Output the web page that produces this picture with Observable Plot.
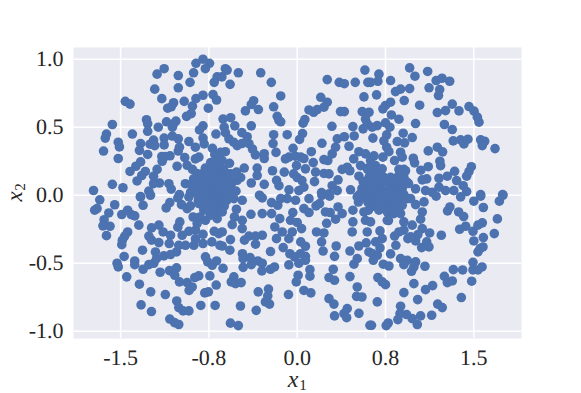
<!DOCTYPE html>
<html><head><meta charset="utf-8">
<script src="https://cdn.jsdelivr.net/npm/d3@7"></script>
<script src="https://cdn.jsdelivr.net/npm/@observablehq/plot@0.6"></script>
<style>html,body{margin:0;padding:0;background:#fff}svg{display:block;text-rendering:geometricPrecision}</style>
</head><body><div id="c"></div>
<script>
const xTicks=[-1.5,-0.75,0,0.75,1.5];
const yTicks=[-1,-0.5,0,0.5,1];
const upperLeft=[[-.80,1],[-.86,.97],[-.745,.97],[-.78,.93],[-.88,.90],[-1.13,.93],[-1.19,.89],[-1.01,.88],[-.91,.83],[-1.01,.79],[-1.21,.78],[-.705,.83],[-.68,.87],[-1.46,.69],[-1.42,.67],[-1.15,.71],[-.96,.69],[-.86,.71],[-.80,.735],[-.715,.74],[-.685,.70],[-.89,.655],[-.755,.64],[-1.05,.68],[-1.07,.65],[-1.10,.64],[-.90,.60],[-.94,.58],[-1.28,.555],[-1.27,.525],[-1.11,.54],[-1.03,.545],[-1.57,.52],[-1.05,.525],[-1.06,.50],[-1.18,.50],[-1.27,.47],[-.80,.51],[-.83,.48],[-1.62,.45],[-1.63,.42],[-1.40,.45],[-.69,.45],[-.80,.42],[-1.06,.435],[-1.01,.415],[-1.13,.42],[-1.22,.405],[-1.52,.39],[-1.51,.355],[-1.645,.325],[-1.52,.27],[-1.33,.38],[-1.34,.33],[-1.27,.30],[-1.25,.375],[-1.21,.365],[-1.13,.37],[-1,.353],[-1.01,.325],[-.92,.395],[-.865,.353],[-.79,.377],[-.72,.345],[-.70,.30],[-.835,.28],[-.865,.267],[-.955,.277],[-1.08,.29],[-1.12,.285],[-1.15,.285],[-1.147,.25],[-1.33,.245],[-1.37,.213],[-1.42,.175],[-1.29,.175],[-1.32,.145],[-1.36,.105],[-1.19,.19],[-1.02,.213],[-.935,.22],[-.89,.19],[-1.22,.14],[-1.17,.09],[-1.22,.085],[-1.09,.085],[-1.07,.045],[-1.26,.03],[-1.33,-.01],[-1,.005],[-1.57,.08],[-1.48,.055],[-1.73,.035],[-.95,.085],[-.735,.24],[-.68,.255],[-.665,.22],[-.75,.18],[-.79,.17],[-.71,.157],[-.82,.12],[-.765,.12],[-.71,.095],[-.88,.07],[-.82,.06],[-.765,.047],[-.68,.047],[-.905,.022],[-.85,.01],[-.79,.01],[-.735,.01],[-.665,0]];
const leftCluster=[[-.78,.2],[-.72,.2],[-.66,.2],[-.85,.16],[-.78,.16],[-.72,.16],[-.66,.16],[-.60,.16],[-.88,.12],[-.82,.12],[-.76,.12],[-.70,.12],[-.64,.12],[-.58,.12],[-.90,.08],[-.84,.08],[-.78,.08],[-.72,.08],[-.66,.08],[-.60,.08],[-.56,.08],[-.86,.04],[-.80,.04],[-.74,.04],[-.68,.04],[-.62,.04],[-.57,.04],[-.84,0],[-.78,0],[-.72,0],[-.66,0],[-.60,0],[-.84,-.04],[-.78,-.04],[-.72,-.04],[-.66,-.04],[-.6,-.04],[-.80,-.08],[-.74,-.08],[-.68,-.08],[-.62,-.08],[-.72,-.12],[-.66,-.12]];
const upperMiddle=[[-.61,.93],[-.595,.92],[-.64,.87],[-.50,.90],[-.57,.815],[-.31,.90],[-.22,.83],[-.14,.73],[-.37,.695],[-.39,.667],[-.44,.62],[-.33,.63],[-.20,.65],[-.17,.58],[-.155,.55],[-.14,.54],[-.63,.56],[-.565,.57],[-.53,.51],[-.39,.51],[-.62,.50],[-.61,.46],[-.47,.46],[-.425,.43],[-.58,.415],[-.54,.39],[-.51,.365],[-.47,.38],[-.41,.38],[-.38,.34],[-.355,.297],[-.28,.305],[-.28,.27],[-.20,.445],[-.205,.38],[-.085,.445],[-.18,.315],[-.61,.32],[-.65,.315],[-.575,.235],[-.637,.255],[-.45,.20],[-.34,.20],[-.34,.145],[-.39,.09],[-.28,.08],[-.21,.18],[-.515,.17],[-.565,.157],[-.48,.13],[-.51,.11],[-.625,.19],[-.58,.095],[-.64,.12],[-.52,.03],[-.58,.02],[-.64,.047],[-.32,0],[-.155,.07],[-.11,.17],[-.175,.11],[-.07,.04],[-.07,.28],[-.10,.267],[-.035,.345],[.03,.28],[-.015,.287],[.12,.32],[.057,.27],[.136,.24],[-.006,.218],[-.03,.157],[.07,.194],[0,.13],[.04,.108],[.057,.06],[.014,.034],[.156,.17],[.147,.10],[.227,.16],[.27,.157],[.207,.02],[.297,.07],[.347,.113],[.34,.034],[.27,.01],[.382,.19],[.425,.206],[.453,.04],[.524,.14],[.48,.267],[.447,.18],[.538,.218],[.58,.047],[.538,.01],[.61,.13],[.595,.194],[.524,.32],[.58,.304],[.44,.36],[.326,.353],[.297,.304],[.227,.262],[.26,.255],[.21,.382],[.34,.414],[.40,.43],[.484,.436],[.473,.505],[.295,.507],[.05,.53],[.065,.556],[.045,.453],[.02,.41],[.10,.627],[.14,.61],[.17,.63],[.227,.647],[.255,.684],[.20,.72],[.255,.85],[.357,.83],[.40,.82],[.493,.83],[.60,.83],[.575,.92],[.567,.723],[.368,.615],[.40,.615],[.552,.615],[.61,.61],[.58,.56],[.595,.525],[.56,.488]];
const upperRight=[[.955,.936],[1.108,.91],[1,.875],[.694,.89],[.685,.838],[.623,.83],[.793,.843],[1.18,.843],[1.23,.86],[1.295,.838],[1.12,.79],[1.21,.777],[1.2,.733],[.955,.784],[.878,.78],[.835,.762],[.674,.738],[.909,.696],[.793,.684],[.75,.66],[.728,.635],[1.04,.662],[1.317,.67],[1.459,.652],[1.502,.618],[1.26,.622],[1.19,.608],[1.374,.62],[1.53,.574],[1.544,.537],[.80,.59],[.864,.559],[.75,.532],[1.005,.527],[1.25,.52],[1.317,.483],[.68,.512],[.637,.50],[.787,.50],[.90,.456],[.977,.424],[.76,.444],[.736,.40],[.643,.42],[.85,.395],[.912,.385],[.76,.353],[.878,.316],[.779,.32],[1.325,.40],[1.388,.407],[1.416,.377],[1.45,.412],[1.558,.407],[1.592,.397],[1.572,.365],[1.68,.343],[1.19,.353],[1.235,.319],[1.113,.326],[.986,.272],[.997,.238],[.827,.255],[.892,.28],[.728,.28],[1.212,.25],[1.218,.218],[1.113,.21],[1.05,.184],[1.479,.21],[1.459,.174],[1.439,.14],[1.337,.176],[1.275,.14],[1.204,.125],[1.1,.12],[1.062,.113],[1.354,.108],[1.41,.07],[1.439,.027],[1.558,.005],[1.745,.005],[1.005,.047],[1.09,.034],[1.147,.022],[1.204,.06],[1.26,.034],[1.33,.034],[.906,.19],[.864,.19],[.935,.095],[.652,.29],[.623,.255],[.665,.218],[.722,.194],[.637,.17],[.68,.145],[.736,.132],[.793,.132],[.85,.132],[.906,.132],[.652,.095],[.708,.083],[.765,.095],[.82,.095],[.878,.083],[.665,.047],[.722,.034],[.779,.047],[.835,.047],[.892,.047],[.68,.005],[.736,.005],[.793,.005],[.85,.005],[.906,.005]];
const rightCluster=[[.55,-.014],[.52,-.05],[.58,.086],[.62,.16],[.665,.18],[.69,-.09],[.775,-.186],[.835,-.09],[.895,-.015],[.945,.086],[.92,.18],[.87,.155],[.605,-.11],[.55,.05],[.58,0],[.6,-.05],[.62,.12],[.66,.1],[.56,.1],[.62,.04],[.64,-.02],[.65,-.08],[.7,-.05],[.6,.2]];
const lowerLeft=[[-1.677,-.034],[-1.55,-.07],[-1.70,-.098],[-1.72,-.11],[-1.60,-.13],[-1.49,-.142],[-1.44,-.11],[-1.41,-.142],[-1.38,-.152],[-1.64,-.18],[-1.65,-.225],[-1.59,-.228],[-1.62,-.297],[-1.345,-.22],[-1.44,-.27],[-1.465,-.30],[-1.485,-.33],[-1.49,-.363],[-1.314,-.404],[-1.47,-.45],[-1.53,-.50],[-1.52,-.527],[-1.38,-.483],[-1.38,-.51],[-1.448,-.60],[-1.34,-.654],[-1.244,-.71],[-1.12,-.73],[-1.326,-.806],[-1.238,-.855],[-1.082,-.91],[-1.042,-.936],[-1.006,-.95],[-1.023,-.777],[-1.006,-.826],[-.969,-.85],[-.92,-.85],[-.819,-.81],[-.697,-.81],[-.785,-.718],[-.754,-.71],[-.688,-.66],[-.742,-.593],[-.836,-.593],[-.87,-.605],[-.935,-.642],[-.892,-.674],[-.918,-.70],[-1,-.637],[-1.04,-.588],[-1.085,-.554],[-1.025,-.534],[-1.164,-.566],[-1.309,-.544],[-1.26,-.51],[-1.218,-.50],[-1.204,-.417],[-1.195,-.466],[-1.133,-.446],[-1.076,-.436],[-1.025,-.417],[-1.087,-.355],[-1.175,-.348],[-1.237,-.33],[-1.26,-.30],[-1.237,-.24],[-1.175,-.22],[-1.139,-.27],[-1.076,-.294],[-1.014,-.235],[-.997,-.196],[-1.006,-.368],[-.949,-.368],[-.977,-.294],[-.92,-.265],[-.878,-.368],[-.864,-.32],[-.864,-.257],[-.80,-.287],[-.80,-.355],[-.725,-.343],[-.705,-.265],[-.666,-.282],[-.657,-.368],[-.884,-.16],[-.85,-.208],[-.827,-.16],[-.779,-.184],[-.737,-.147],[-.68,-.172],[-.779,-.453],[-.76,-.49],[-.722,-.515],[-.685,-.483],[-1.309,-.074],[-1.332,-.012],[-1.246,0],[-1.113,-.093],[-1.082,-.054],[-.983,-.069],[-.935,-.098],[-.907,-.078],[-1.014,-.02],[-.92,-.012],[-.835,-.061],[-.779,-.037],[-.708,-.049],[-.666,-.098],[-.722,-.098],[-.793,-.11]];
const lowerMiddle=[[-.467,-.037],[-.538,-.025],[-.61,-.025],[-.516,-.103],[-.637,-.123],[-.533,-.16],[-.467,-.184],[-.552,-.216],[-.467,-.245],[-.637,-.27],[-.393,-.14],[-.297,-.135],[-.218,-.135],[-.165,-.074],[-.218,-.054],[-.148,-.172],[-.037,-.127],[-.057,-.184],[0,-.2],[.037,-.245],[-.19,-.233],[-.127,-.27],[-.176,-.319],[-.042,-.27],[-.071,-.319],[-.119,-.385],[-.297,-.294],[-.354,-.30],[-.41,-.30],[-.448,-.33],[-.354,-.36],[-.567,-.326],[-.637,-.373],[-.572,-.404],[-.227,-.414],[-.465,-.43],[-.46,-.466],[-.40,-.458],[-.39,-.51],[-.334,-.483],[-.297,-.50],[-.30,-.556],[-.459,-.53],[-.63,-.537],[-.227,-.544],[-.193,-.527],[-.071,-.512],[.03,-.343],[.07,-.375],[-.062,-.43],[-.023,-.453],[.028,-.43],[.07,-.449],[.014,-.50],[.07,-.478],[.108,-.547],[.108,-.595],[.008,-.588],[-.008,-.637],[.057,-.70],[.116,-.718],[-.074,-.73],[-.244,-.69],[-.25,-.74],[-.27,-.784],[-.235,-.80],[-.331,-.71],[-.348,-.846],[-.482,-.814],[-.567,-.94],[-.50,-.958],[-.538,-.60],[-.56,-.637],[-.524,-.65],[-.476,-.642],[.164,-.27],[.227,-.277],[.25,-.206],[.207,-.343],[.22,-.41],[.331,-.373],[.317,-.449],[.448,-.41],[.467,-.27],[.473,-.196],[.473,-.11],[.482,-.507],[.51,-.466],[.524,-.373],[.586,-.35],[.595,-.27],[.306,-.544],[.27,-.605],[.317,-.625],[.448,-.598],[.51,-.674],[.504,-.743],[.55,-.748],[.27,-.76],[.312,-.80],[.425,-.833],[.397,-.87],[.42,-.90],[.317,-.887],[.524,-.868],[.618,-.956],[.057,-.098],[.10,-.127],[.19,-.061],[.16,-.078],[.24,-.123],[.28,-.127],[.347,-.086],[.326,-.176],[.382,-.135],[-.014,-.037],[-.085,-.025],[-.14,-.025],[.10,-.025],[.21,0],[.275,-.007],[-.297,-.02],[.567,-.123],[.58,-.184],[.524,0],[.609,-.049],[.609,-.417],[.51,-.012]];
const lowerRight=[[1.18,-.007],[1.388,-.012],[1.5,-.044],[1.581,-.09],[1.717,-.044],[1.747,0],[1.558,-.007],[1.297,-.086],[1.277,-.115],[1.371,-.123],[1.414,-.157],[1.7,-.174],[1.572,-.203],[1.535,-.22],[1.431,-.228],[1.38,-.25],[1.493,-.265],[1.674,-.282],[1.581,-.311],[1.5,-.336],[1.578,-.38],[1.553,-.392],[1.535,-.417],[1.224,-.294],[1.077,-.049],[1.006,-.069],[1.062,-.123],[1.048,-.176],[1.062,-.245],[1.125,-.277],[1.1,-.343],[1.119,-.38],[1.057,-.385],[1.025,-.289],[1.006,-.336],[.94,-.319],[.963,-.306],[.977,-.22],[.906,-.196],[.906,-.257],[.864,-.27],[.827,-.30],[.838,-.368],[.703,-.262],[.722,-.319],[.666,-.343],[.703,-.387],[.637,-.429],[.68,-.441],[.646,-.478],[.623,-.196],[.793,-.431],[.878,-.466],[.935,-.478],[.906,-.51],[1.006,-.49],[.991,-.527],[.971,-.559],[1.085,-.522],[.731,-.507],[.779,-.52],[.685,-.605],[.722,-.637],[.75,-.657],[.991,-.65],[.906,-.716],[1.15,-.664],[1.09,-.694],[1.023,-.767],[.68,-.784],[1.25,-.596],[1.275,-.642],[1.317,-.63],[1.326,-.547],[1.405,-.549],[1.493,-.493],[1.493,-.549],[1.535,-.549],[1.57,-.527],[1.482,-.632],[1.394,-.752],[1.193,-.80],[1.232,-.826],[1.142,-.882],[1.048,-.887],[.977,-.907],[1.02,-.95],[.929,-.877],[.878,-.816],[.873,-.87],[.855,-.914],[.773,-.939],[.756,-.958],[.631,-.956],[.652,-.025],[.708,-.025],[.765,-.025],[.82,-.025],[.878,-.025],[.935,-.025],[.666,-.074],[.722,-.074],[.779,-.074],[.835,-.074],[.892,-.074],[.694,-.11],[.765,-.123],[.82,-.135],[.765,-.184],[.878,-.135],[.963,-.025]];
const points=[...upperLeft,...leftCluster,...upperMiddle,...upperRight,...rightCluster,...lowerLeft,...lowerMiddle,...lowerRight];
const serif="'Liberation Serif',serif";
const ink="#262626";
const chart=Plot.plot({
  width:581,height:393,marginLeft:73,marginRight:60,marginTop:47,marginBottom:55,
  style:{fontFamily:serif,background:"#fff",color:ink},
  x:{domain:[-1.9,1.905],label:null},
  y:{domain:[-1.053,1.086],label:null},
  marks:[
    Plot.frame({fill:"#eaeaf2",stroke:null}),
    Plot.gridX(xTicks,{stroke:"#fff",strokeOpacity:1,strokeWidth:1.5}),
    Plot.gridY(yTicks,{stroke:"#fff",strokeOpacity:1,strokeWidth:1.5}),
    Plot.axisX({ticks:xTicks,tickSize:0,tickPadding:11,tickFormat:d=>d.toFixed(1),fontSize:22,label:null,fill:ink}),
    Plot.axisY({ticks:yTicks,tickSize:0,tickPadding:10,tickFormat:d=>d.toFixed(1),fontSize:22,label:null,fill:ink}),
    Plot.dot(points,{x:d=>d[0],y:d=>d[1],r:4.8,fill:"#4c72b0",stroke:null}),
    Plot.text(["x"],{frameAnchor:"bottom",lineAnchor:"bottom",textAnchor:"middle",dy:48,dx:-4.5,fontStyle:"italic",fontSize:24,fill:ink}),
    Plot.text(["1"],{frameAnchor:"bottom",lineAnchor:"bottom",textAnchor:"middle",dy:51,dx:5.5,fontSize:15,fill:ink}),
    Plot.text(["x"],{frameAnchor:"left",lineAnchor:"bottom",textAnchor:"middle",dx:-52,dy:3.5,rotate:-90,fontStyle:"italic",fontSize:23,fill:ink}),
    Plot.text(["2"],{frameAnchor:"left",lineAnchor:"bottom",textAnchor:"middle",dx:-49,dy:-6,rotate:-90,fontSize:15,fill:ink})
  ]
});
document.getElementById("c").appendChild(chart);
</script></body></html>
